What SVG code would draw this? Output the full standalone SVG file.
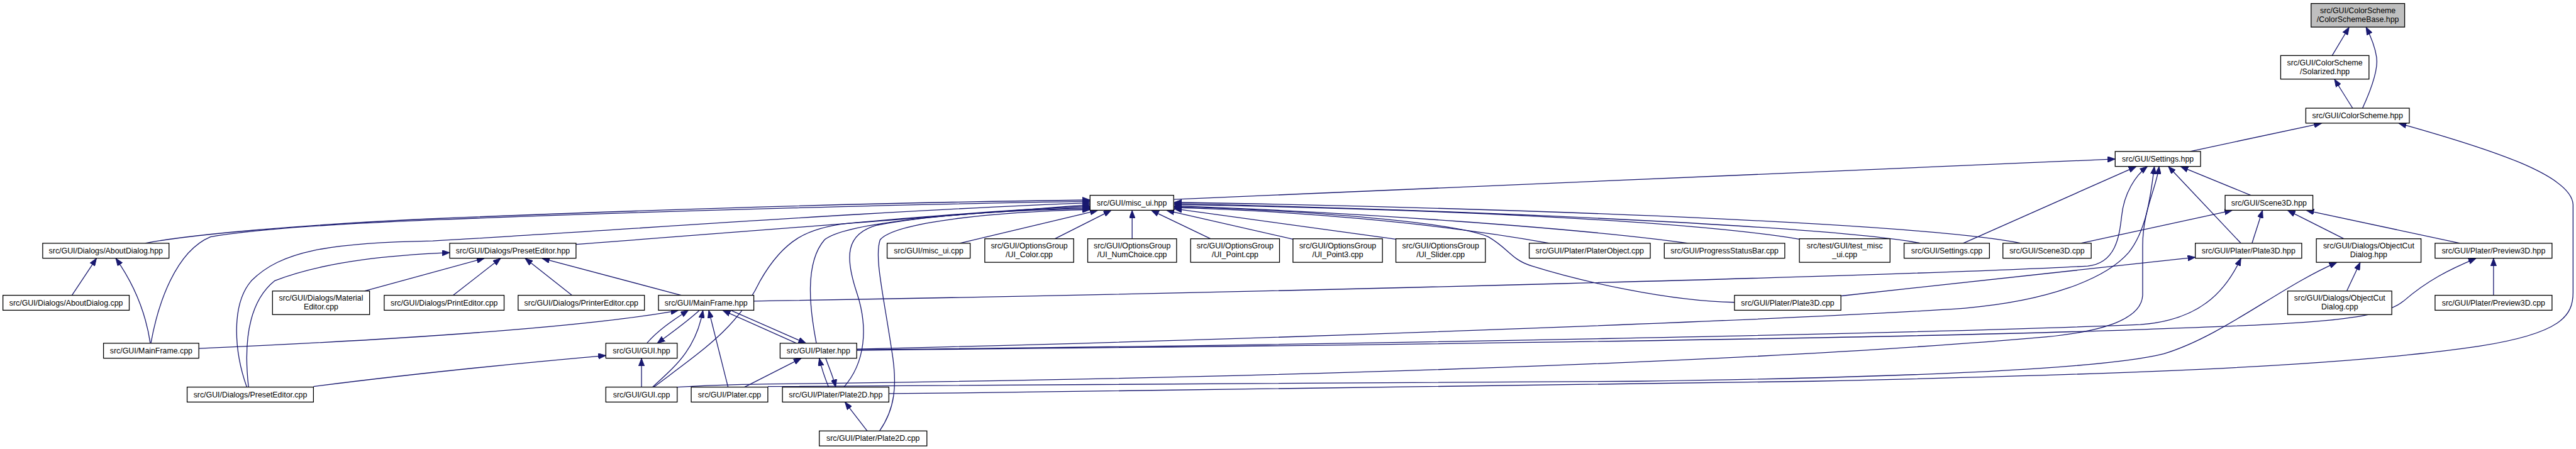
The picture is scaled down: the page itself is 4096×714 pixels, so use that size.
<svg xmlns="http://www.w3.org/2000/svg" width="4096" height="714" viewBox="0 0 4096 714">
<defs>
<style>
.n rect{fill:#fff;stroke:#000;stroke-width:1.4}
.n.root rect{fill:#bfbfbf}
.n text{font-family:"Liberation Sans",Arial,Helvetica,sans-serif;font-size:13.3px;text-anchor:middle;fill:#000}
#connectors path{fill:none;stroke:#191970;stroke-width:1.4;marker-end:url(#ah)}
</style>
<marker id="ah" markerUnits="userSpaceOnUse" markerWidth="14" markerHeight="10" refX="13" refY="5" orient="auto">
<path d="M0,0L13,5L0,10z" fill="#191970" stroke="#191970" stroke-width="1"/>
</marker>
</defs>
<rect x="0" y="0" width="4096" height="714" fill="#fff"/>
<g transform="scale(0.92985)">
<g id="connectors">
<path d="M3988,95 L4017,46.5"/>
<path d="M4040,185 C4056,150 4067,118 4064,98 C4061,78 4054,62 4046,46.5"/>
<path d="M4023,185 L3992,135.5"/>
<path d="M3745,259 L3970,210.8"/>
<path d="M1520,673 C2100,668 2700,661 3100,652 C3600,641 4000,628 4240,592 C4380,570 4400,540 4400,500 L4400,350 C4398,300 4260,255 4102,210.8"/>
<path d="M2007,341 L3617,272"/>
<path d="M3357,416 L3653,284.8"/>
<path d="M3849,334 L3729,284.8"/>
<path d="M3832,416 L3708,284.8"/>
<path d="M1289,515 C2200,500 3300,470 3570,455 C3618,450 3624,405 3628,370 C3632,330 3652,300 3672,284.8"/>
<path d="M1465,597 C2200,580 3100,545 3360,527 C3500,515 3600,478 3640,432 C3672,392 3678,330 3684,284.8"/>
<path d="M1158,662 C1260,656 1320,657 1450,655 C2200,645 3000,620 3500,576 C3600,566 3662,545 3664,505 L3664,420 C3664,360 3688,320 3692,284.8"/>
<path d="M3558,416 L3817,359.8"/>
<path d="M3851,416 L3869,359.8"/>
<path d="M4008,408.3 L3912,359.8"/>
<path d="M4207,416 L3944,359.8"/>
<path d="M4013,497.7 L4036,448.8"/>
<path d="M4264,505 L4264,441.8"/>
<path d="M3149,506 L3754,440"/>
<path d="M1465,598 C2300,590 3300,570 3660,555 C3760,548 3805,500 3832,441.8"/>
<path d="M1465,599 C2400,590 3300,578 3700,562 C3950,553 4070,548 4110,515 C4150,480 4190,460 4234,441.8"/>
<path d="M1313,661 C1400,656 2000,654 2800,652 C3300,645 3600,630 3700,605 C3800,575 3900,490 3996,448.8"/>
<path d="M1641,416 L1877,359.8"/>
<path d="M1804,408.3 L1900,359.8"/>
<path d="M1936,408.3 L1936,359.8"/>
<path d="M2070,408.3 L1969,359.8"/>
<path d="M2211,409 L1995,359.8"/>
<path d="M2387,409 L2008,357"/>
<path d="M2650,416 C2450,380 2200,360 2008,355"/>
<path d="M2887,416 C2700,390 2300,362 2008,352"/>
<path d="M3077,409 C2900,380 2500,358 2008,350"/>
<path d="M3284,416 C3150,390 2600,362 2008,348"/>
<path d="M3456,416 C3300,385 2700,358 2008,346"/>
<path d="M2966,517 C2850,515 2700,480 2620,455 C2585,445 2580,425 2545,405 C2500,385 2300,362 2008,353.5"/>
<path d="M248,416 C320,402 500,385 740,374 C1200,355 1600,345 1864,342"/>
<path d="M258,587 C270,520 300,430 360,405 C450,390 600,382 740,376 C1150,360 1600,348 1864,344.5"/>
<path d="M422,662 C400,600 395,520 430,480 C480,430 560,415 740,412 C1000,398 1500,360 1864,347"/>
<path d="M985,418 C1300,392 1600,368 1864,350"/>
<path d="M1118,662 C1200,600 1262,560 1300,480 C1340,410 1380,390 1450,382 C1600,368 1750,358 1864,352.5"/>
<path d="M1396,587 C1385,530 1375,450 1410,410 C1440,385 1600,364 1864,355"/>
<path d="M1443,662 C1480,620 1485,560 1465,500 C1445,440 1445,400 1500,385 C1600,366 1750,359 1864,357"/>
<path d="M1504,737 C1530,700 1535,660 1525,600 C1510,500 1495,440 1505,410 C1530,380 1700,362 1864,358.5"/>
<path d="M123,505 L165,441.8"/>
<path d="M257,587 C250,540 232,490 198,441.8"/>
<path d="M340,596 C700,580 1000,560 1160,530.8"/>
<path d="M425,662 C418,600 420,520 470,480 C560,445 680,436 769,432"/>
<path d="M536,661 C700,640 900,620 1036,608"/>
<path d="M623,497.7 L828,441.8"/>
<path d="M775,505 L856,441.8"/>
<path d="M978,505 L898,441.8"/>
<path d="M1165,505 L927,441.8"/>
<path d="M1106,587 C1125,565 1150,548 1177,530.8"/>
<path d="M1196,530.8 C1175,550 1150,568 1124,587"/>
<path d="M1116,662 C1150,630 1190,600 1202,530.8"/>
<path d="M1097,662 L1097,612.8"/>
<path d="M1245,662 L1212,530.8"/>
<path d="M1273,662 L1370,612.8"/>
<path d="M1362,587 L1236,530.8"/>
<path d="M1250,530.8 L1378,587"/>
<path d="M1417,662 C1410,645 1405,630 1401,612.8"/>
<path d="M1412,612.8 C1418,630 1425,645 1429,662"/>
<path d="M1483,737 L1445,687.8"/>
</g>
<g id="n_base" class="n root"><rect x="3952" y="6" width="160" height="40.3"/><text x="4032" y="22.5">src/GUI/ColorScheme</text><text x="4032" y="37.5">/ColorSchemeBase.hpp</text></g>
<g id="n_solarized" class="n"><rect x="3900" y="95" width="151" height="40.3"/><text x="3975.5" y="111.5">src/GUI/ColorScheme</text><text x="3975.5" y="126.5">/Solarized.hpp</text></g>
<g id="n_colorscheme" class="n"><rect x="3943" y="185" width="177" height="25.6"/><text x="4031.5" y="202.4">src/GUI/ColorScheme.hpp</text></g>
<g id="n_settings_hpp" class="n"><rect x="3617" y="259" width="146" height="25.6"/><text x="3690" y="276.4">src/GUI/Settings.hpp</text></g>
<g id="n_misc_ui_hpp" class="n"><rect x="1864" y="334" width="143" height="25.6"/><text x="1935.5" y="351.4">src/GUI/misc_ui.hpp</text></g>
<g id="n_scene3d_hpp" class="n"><rect x="3805" y="334" width="150" height="25.6"/><text x="3880" y="351.4">src/GUI/Scene3D.hpp</text></g>
<g id="n_aboutdialog_hpp" class="n"><rect x="73" y="416" width="216" height="25.6"/><text x="181" y="433.4">src/GUI/Dialogs/AboutDialog.hpp</text></g>
<g id="n_preseteditor_hpp" class="n"><rect x="769" y="416" width="216" height="25.6"/><text x="877" y="433.4">src/GUI/Dialogs/PresetEditor.hpp</text></g>
<g id="n_misc_ui_cpp" class="n"><rect x="1517" y="416" width="142" height="25.6"/><text x="1588" y="433.4">src/GUI/misc_ui.cpp</text></g>
<g id="n_ui_color" class="n"><rect x="1684" y="408.3" width="152" height="40.3"/><text x="1760" y="424.8">src/GUI/OptionsGroup</text><text x="1760" y="439.8">/UI_Color.cpp</text></g>
<g id="n_ui_numchoice" class="n"><rect x="1860" y="408.3" width="152" height="40.3"/><text x="1936" y="424.8">src/GUI/OptionsGroup</text><text x="1936" y="439.8">/UI_NumChoice.cpp</text></g>
<g id="n_ui_point" class="n"><rect x="2036" y="408.3" width="152" height="40.3"/><text x="2112" y="424.8">src/GUI/OptionsGroup</text><text x="2112" y="439.8">/UI_Point.cpp</text></g>
<g id="n_ui_point3" class="n"><rect x="2211" y="408.3" width="153" height="40.3"/><text x="2287.5" y="424.8">src/GUI/OptionsGroup</text><text x="2287.5" y="439.8">/UI_Point3.cpp</text></g>
<g id="n_ui_slider" class="n"><rect x="2387" y="408.3" width="153" height="40.3"/><text x="2463.5" y="424.8">src/GUI/OptionsGroup</text><text x="2463.5" y="439.8">/UI_Slider.cpp</text></g>
<g id="n_platerobject" class="n"><rect x="2615" y="416" width="207" height="25.6"/><text x="2718.5" y="433.4">src/GUI/Plater/PlaterObject.cpp</text></g>
<g id="n_progress" class="n"><rect x="2846" y="416" width="206" height="25.6"/><text x="2949" y="433.4">src/GUI/ProgressStatusBar.cpp</text></g>
<g id="n_test_misc_ui" class="n"><rect x="3077" y="408.3" width="155" height="40.3"/><text x="3154.5" y="424.8">src/test/GUI/test_misc</text><text x="3154.5" y="439.8">_ui.cpp</text></g>
<g id="n_settings_cpp" class="n"><rect x="3256" y="416" width="146" height="25.6"/><text x="3329" y="433.4">src/GUI/Settings.cpp</text></g>
<g id="n_scene3d_cpp" class="n"><rect x="3425" y="416" width="151" height="25.6"/><text x="3500.5" y="433.4">src/GUI/Scene3D.cpp</text></g>
<g id="n_plate3d_hpp" class="n"><rect x="3754" y="416" width="182" height="25.6"/><text x="3845" y="433.4">src/GUI/Plater/Plate3D.hpp</text></g>
<g id="n_objectcut_hpp" class="n"><rect x="3961" y="408.3" width="179" height="40.3"/><text x="4050.5" y="424.8">src/GUI/Dialogs/ObjectCut</text><text x="4050.5" y="439.8">Dialog.hpp</text></g>
<g id="n_preview3d_hpp" class="n"><rect x="4164" y="416" width="200" height="25.6"/><text x="4264" y="433.4">src/GUI/Plater/Preview3D.hpp</text></g>
<g id="n_aboutdialog_cpp" class="n"><rect x="5" y="505" width="216" height="25.6"/><text x="113" y="522.4">src/GUI/Dialogs/AboutDialog.cpp</text></g>
<g id="n_materialeditor" class="n"><rect x="466" y="497.7" width="166" height="40.3"/><text x="549" y="514.2">src/GUI/Dialogs/Material</text><text x="549" y="529.2">Editor.cpp</text></g>
<g id="n_printeditor" class="n"><rect x="657" y="505" width="205" height="25.6"/><text x="759.5" y="522.4">src/GUI/Dialogs/PrintEditor.cpp</text></g>
<g id="n_printereditor" class="n"><rect x="886" y="505" width="216" height="25.6"/><text x="994" y="522.4">src/GUI/Dialogs/PrinterEditor.cpp</text></g>
<g id="n_mainframe_hpp" class="n"><rect x="1126" y="505" width="163" height="25.6"/><text x="1207.5" y="522.4">src/GUI/MainFrame.hpp</text></g>
<g id="n_plate3d_cpp" class="n"><rect x="2966" y="505" width="182" height="25.6"/><text x="3057" y="522.4">src/GUI/Plater/Plate3D.cpp</text></g>
<g id="n_objectcut_cpp" class="n"><rect x="3912" y="497.7" width="178" height="40.3"/><text x="4001" y="514.2">src/GUI/Dialogs/ObjectCut</text><text x="4001" y="529.2">Dialog.cpp</text></g>
<g id="n_preview3d_cpp" class="n"><rect x="4164" y="505" width="200" height="25.6"/><text x="4264" y="522.4">src/GUI/Plater/Preview3D.cpp</text></g>
<g id="n_mainframe_cpp" class="n"><rect x="177" y="587" width="163" height="25.6"/><text x="258.5" y="604.4">src/GUI/MainFrame.cpp</text></g>
<g id="n_gui_hpp" class="n"><rect x="1036" y="587" width="122" height="25.6"/><text x="1097" y="604.4">src/GUI/GUI.hpp</text></g>
<g id="n_plater_hpp" class="n"><rect x="1334" y="587" width="131" height="25.6"/><text x="1399.5" y="604.4">src/GUI/Plater.hpp</text></g>
<g id="n_preseteditor_cpp" class="n"><rect x="320" y="662" width="216" height="25.6"/><text x="428" y="679.4">src/GUI/Dialogs/PresetEditor.cpp</text></g>
<g id="n_gui_cpp" class="n"><rect x="1036" y="662" width="122" height="25.6"/><text x="1097" y="679.4">src/GUI/GUI.cpp</text></g>
<g id="n_plater_cpp" class="n"><rect x="1182" y="662" width="131" height="25.6"/><text x="1247.5" y="679.4">src/GUI/Plater.cpp</text></g>
<g id="n_plate2d_hpp" class="n"><rect x="1338" y="662" width="182" height="25.6"/><text x="1429" y="679.4">src/GUI/Plater/Plate2D.hpp</text></g>
<g id="n_plate2d_cpp" class="n"><rect x="1401" y="737" width="184" height="25.6"/><text x="1493" y="754.4">src/GUI/Plater/Plate2D.cpp</text></g>
</g>
</svg>
